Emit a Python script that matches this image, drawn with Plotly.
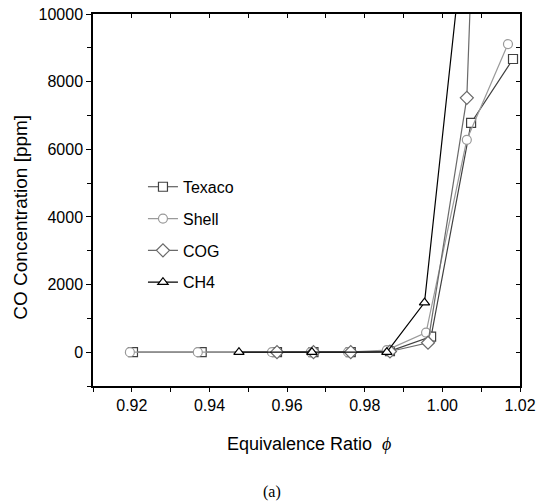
import plotly.graph_objects as go

# ---- data ----
texaco_x = [0.9203, 0.9380, 0.9574, 0.9668, 0.9764, 0.9865, 0.9971, 1.0074, 1.0182]
texaco_y = [0, 0, 0, 0, 0, 30, 460, 6780, 8670]

shell_x = [0.9195, 0.9370, 0.9561, 0.9661, 0.9757, 0.9857, 0.9958, 1.0063, 1.0169]
shell_y = [0, 0, 0, 0, 0, 60, 580, 6280, 9110]

cog_x = [0.9574, 0.9668, 0.9764, 0.9865, 0.9963, 1.0063, 1.0085]
cog_y = [0, 0, 0, 20, 280, 7520, 14500]

ch4_x = [0.9476, 0.9664, 0.9857, 0.9954, 1.0060]
ch4_y = [0, 0, 0, 1465, 12750]

x_range = [0.91, 1.02]
y_range = [-1000, 10000]

series = [
    ("Texaco", texaco_x, texaco_y, "square", "#404040"),
    ("Shell", shell_x, shell_y, "circle", "#9a9a9a"),
    ("COG", cog_x, cog_y, "diamond", "#6a6a6a"),
    ("CH4", ch4_x, ch4_y, "triangle-up", "#000000"),
]

fig = go.Figure()
for i, (name, xs, ys, sym, col) in enumerate(series):
    fig.add_trace(go.Scatter(
        x=xs, y=ys, name=name, mode="lines+markers",
        line=dict(color=col, width=1.2),
        marker=dict(symbol=sym, size=9 if sym != "diamond" else 10,
                    color="white", line=dict(color=col, width=1.2)),
        legendgroup=name,
        cliponaxis=True,
    ))

# dummy trace for mirrored inside ticks
fig.add_trace(go.Scatter(x=[x_range[0]], y=[y_range[0]], xaxis="x2", yaxis="y2",
                         mode="markers", marker=dict(opacity=0), showlegend=False,
                         hoverinfo="skip"))

axis_font = dict(family="Liberation Sans, Arial, sans-serif", size=16, color="#000")

fig.update_layout(
    width=537, height=504,
    margin=dict(l=93, r=17, t=14, b=118, autoexpand=False),
    paper_bgcolor="white", plot_bgcolor="white",
    font=axis_font,
    xaxis=dict(range=x_range, tick0=0.92, dtick=0.02, tickformat=".2f",
               ticks="outside", ticklen=4, tickwidth=1, tickcolor="#000",
               minor=dict(dtick=0.01, ticks="outside", ticklen=4, tickcolor="#000"),
               showline=True, linecolor="#000", linewidth=1.5, mirror=True,
               showgrid=False, zeroline=False, tickfont=axis_font, automargin=False),
    yaxis=dict(range=y_range, tick0=0, dtick=2000, tickformat="d",
               ticks="outside", ticklen=5, tickwidth=1, tickcolor="#000",
               minor=dict(dtick=1000, ticks="outside", ticklen=4, tickcolor="#000"),
               showline=True, linecolor="#000", linewidth=1.5, mirror=True,
               showgrid=False, zeroline=False, tickfont=axis_font, automargin=False),
    xaxis2=dict(range=x_range, overlaying="x", side="top", anchor="y",
                tick0=0.92, dtick=0.02, ticks="inside", ticklen=4, tickcolor="#000",
                minor=dict(dtick=0.01, ticks="inside", ticklen=4, tickcolor="#000"),
                showticklabels=False, showgrid=False, zeroline=False, showline=False,
                automargin=False),
    yaxis2=dict(range=y_range, overlaying="y", side="right", anchor="x",
                tick0=0, dtick=2000, ticks="inside", ticklen=4, tickcolor="#000",
                minor=dict(dtick=1000, ticks="inside", ticklen=4, tickcolor="#000"),
                showticklabels=False, showgrid=False, zeroline=False, showline=False,
                automargin=False),
    legend=dict(x=0.117, y=0.581, xanchor="left", yanchor="top",
                bgcolor="rgba(0,0,0,0)", tracegroupgap=8,
                font=dict(family="Liberation Sans, Arial, sans-serif", size=16)),
    showlegend=True,
)

fig.add_annotation(text="CO Concentration [ppm]", xref="paper", yref="paper",
                   x=(21 - 93) / 427, y=(386.5 - 218) / 372.5, textangle=-90,
                   showarrow=False, xanchor="center", yanchor="middle",
                   font=dict(family="Liberation Sans, Arial, sans-serif", size=19))
fig.add_annotation(text="Equivalence Ratio  <i><span style='font-family:Liberation Serif;color:#000000'>\u03d5</span></i>",
                   xref="paper", yref="paper",
                   x=(309 - 93) / 427, y=-(445 - 386.5) / 372.5,
                   showarrow=False, xanchor="center", yanchor="middle",
                   font=dict(family="Liberation Sans, Arial, sans-serif", size=18, color="#000"))
fig.add_annotation(text="(a)", xref="paper", yref="paper",
                   x=(272 - 93) / 427, y=-(493 - 386.5) / 372.5,
                   showarrow=False, xanchor="center", yanchor="middle",
                   font=dict(family="Liberation Serif, Times New Roman, serif", size=16))

fig.write_html("out.html", config={"displayModeBar": False},
               post_script="document.body.style.margin='0';document.body.style.overflow='hidden';")
